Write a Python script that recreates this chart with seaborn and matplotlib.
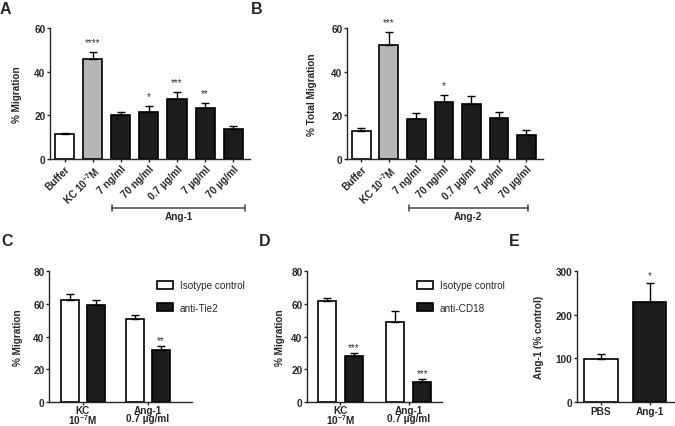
import seaborn as sns
import matplotlib.pyplot as plt
import matplotlib.transforms as mtransforms
import pandas as pd
import numpy as np

# ---- data ----
doses = ["Buffer", "KC 10$^{-7}$M", "7 ng/ml", "70 ng/ml", "0.7 µg/ml", "7 µg/ml", "70 µg/ml"]
dose_kind = ["buffer", "kc", "ang", "ang", "ang", "ang", "ang"]

ang1_mean = [11.5, 46.0, 20.0, 21.5, 27.5, 23.3, 13.8]
ang1_sem = [0.5, 3.2, 1.7, 3.0, 3.2, 2.5, 1.3]
ang1_stars = ["", "****", "", "*", "***", "**", ""]

ang2_mean = [13.0, 52.3, 18.2, 26.0, 25.3, 19.0, 11.0]
ang2_sem = [1.3, 5.8, 3.0, 3.5, 3.4, 2.5, 2.2]
ang2_stars = ["", "***", "", "*", "", "", ""]

groups = ["KC\n10$^{-7}$M", "Ang-1\n0.7 µg/ml"]

tie2_iso = [62.0, 50.5]
tie2_iso_sem = [4.0, 2.5]
tie2_anti = [59.5, 31.5]
tie2_anti_sem = [2.5, 3.0]
tie2_stars = ["", "**"]

cd18_iso = [61.5, 49.0]
cd18_iso_sem = [2.0, 6.5]
cd18_anti = [28.0, 12.0]
cd18_anti_sem = [2.0, 2.0]
cd18_stars = ["***", "***"]

e_cats = ["PBS", "Ang-1"]
e_mean = [99.0, 230.0]
e_sem = [11.0, 42.0]
e_stars = ["", "*"]

# ---- style ----
sns.set_style("ticks")
plt.rcParams['font.family'] = ['Liberation Sans', 'DejaVu Sans']
plt.rcParams['font.weight'] = 'bold'
plt.rcParams['axes.labelweight'] = 'bold'
plt.rcParams['mathtext.fontset'] = 'custom'
plt.rcParams['mathtext.rm'] = 'Liberation Sans:bold'
plt.rcParams['mathtext.default'] = 'rm'
plt.rcParams['axes.linewidth'] = 1.0
plt.rcParams['xtick.major.width'] = 1.0
plt.rcParams['ytick.major.width'] = 1.0
plt.rcParams['xtick.major.size'] = 2.2
plt.rcParams['ytick.major.size'] = 2.2
plt.rcParams['xtick.major.pad'] = 1.0
plt.rcParams['ytick.major.pad'] = 1.0

WHITE = "#ffffff"
GRAY = "#b5b6b9"
BLACK = "#1c1c1c"
TICK = 7.2
STAR = 7

W, H = 675, 427
fig = plt.figure(figsize=(W / 100, H / 100), dpi=100)


def px_axes(x0, x1, y0, y1):
    return fig.add_axes([x0 / W, 1 - y1 / H, (x1 - x0) / W, (y1 - y0) / H])


def errs(ax, bars, sem, stars=None, off=3):
    xs = [b.get_x() + b.get_width() / 2 for b in bars]
    hs = [b.get_height() for b in bars]
    ax.errorbar(xs, hs, yerr=[np.zeros(len(sem)), sem], fmt='none',
                ecolor='black', elinewidth=1.0, capsize=3.2, capthick=1.0,
                zorder=1, clip_on=False)
    if stars:
        for x, h, s, st in zip(xs, hs, sem, stars):
            if st:
                ax.annotate(st, (x, h + s), xytext=(0, off), textcoords='offset points',
                            ha='center', va='bottom', fontsize=STAR,
                            fontweight='normal', color='#333333', annotation_clip=False)


def style(ax, ylabel, yticks, label_x):
    sns.despine(ax=ax)
    ax.set_ylim(yticks[0], yticks[-1])
    ax.set_yticks(yticks)
    ax.set_ylabel(ylabel, fontsize=TICK)
    ax.yaxis.set_label_coords(label_x, 0.5)
    ax.set_xlabel("")
    ax.tick_params(labelsize=TICK)
    for sp in ax.spines.values():
        sp.set_linewidth(1.0)


def dose_panel(ax, means, sems, stars, ylabel, bracket, blabel, label_x):
    df = pd.DataFrame({"dose": doses, "val": means, "kind": dose_kind})
    sns.barplot(data=df, x="dose", y="val", hue="kind",
                palette={"buffer": WHITE, "kc": GRAY, "ang": BLACK},
                dodge=False, width=0.68, edgecolor='black', linewidth=1.2,
                legend=False, ax=ax)
    bars = sorted(ax.patches, key=lambda p: p.get_x())
    errs(ax, bars, sems, stars, off=3.5)
    style(ax, ylabel, [0, 20, 40, 60], label_x)
    ax.set_xlim(-0.52, 6.6)
    ax.set_xticks(range(len(doses)))
    ax.set_xticklabels(doses, rotation=45, ha='right', rotation_mode='anchor')
    tr = mtransforms.blended_transform_factory(ax.transData, ax.transAxes)
    b0, b1 = bracket
    ax.plot([b0, b1], [-0.374, -0.374], color='#444444', lw=1.1, transform=tr, clip_on=False)
    for bx in (b0, b1):
        ax.plot([bx, bx], [-0.35, -0.398], color='#444444', lw=1.1, transform=tr, clip_on=False)
    ax.text((b0 + b1) / 2, -0.40, blabel, transform=tr, ha='center', va='top',
            fontsize=TICK, fontweight='bold')


# ---- A ----
axA = px_axes(50, 250, 29, 160)
dose_panel(axA, ang1_mean, ang1_sem, ang1_stars, "% Migration", (1.68, 6.43), "Ang-1", -0.14)

# ---- B ----
axB = px_axes(347, 543, 29, 160)
dose_panel(axB, ang2_mean, ang2_sem, ang2_stars, "% Total Migration", (1.73, 6.05), "Ang-2", -0.153)


def pair_panel(ax, iso, iso_sem, anti, anti_sem, stars, anti_name, xlim, label_x, leg_x):
    df = pd.DataFrame({
        "group": groups * 2,
        "val": iso + anti,
        "treat": ["Isotype control"] * 2 + [anti_name] * 2,
    })
    sns.barplot(data=df, x="group", y="val", hue="treat",
                palette={"Isotype control": WHITE, anti_name: BLACK},
                width=0.8, gap=0.33, edgecolor='black', linewidth=1.2, ax=ax)
    c_iso, c_anti = ax.containers[0], ax.containers[1]
    errs(ax, list(c_iso), iso_sem)
    errs(ax, list(c_anti), anti_sem, stars, off=0.5)
    style(ax, "% Migration", [0, 20, 40, 60, 80], label_x)
    ax.set_xlim(*xlim)
    ax.tick_params(axis='x', pad=0.3)
    for t in ax.get_xticklabels():
        t.set_linespacing(0.72)
    leg = ax.legend(loc='upper left', bbox_to_anchor=(leg_x, 0.93), frameon=False,
                    prop={'size': TICK, 'weight': 'normal'}, handlelength=1.6,
                    handleheight=0.9, labelspacing=1.25, handletextpad=0.7,
                    borderaxespad=0, borderpad=0)
    for h in leg.legend_handles:
        h.set_edgecolor('black')
        h.set_linewidth(1.2)


# ---- C ----
axC = px_axes(49, 192, 272, 403)
pair_panel(axC, tie2_iso, tie2_iso_sem, tie2_anti, tie2_anti_sem, tie2_stars, "anti-Tie2",
           (-0.52, 1.68), -0.182, 0.755)

# ---- D ----
axD = px_axes(307, 442, 272, 403)
pair_panel(axD, cd18_iso, cd18_iso_sem, cd18_anti, cd18_anti_sem, cd18_stars, "anti-CD18",
           (-0.49, 1.49), -0.163, 0.815)

# ---- E ----
axE = px_axes(577, 674, 272, 403)
dfE = pd.DataFrame({"cond": e_cats, "val": e_mean})
sns.barplot(data=dfE, x="cond", y="val", hue="cond", palette=[WHITE, BLACK],
            width=0.69, edgecolor='black', linewidth=1.2, legend=False, ax=axE)
errs(axE, sorted(axE.patches, key=lambda p: p.get_x()), e_sem, e_stars, off=2)
style(axE, "Ang-1 (% control)", [0, 100, 200, 300], -0.34)
axE.set_xlim(-0.49, 1.5)
axE.tick_params(axis='x', pad=0.5)

# ---- panel letters ----
for letter, x, y in [("A", 0, 2), ("B", 251, 2), ("C", 1, 234), ("D", 259, 234), ("E", 509, 234)]:
    fig.text(x / W, 1 - y / H, letter, fontsize=11.5, fontweight='bold', va='top', ha='left')

fig.savefig("out.png", dpi=100)
